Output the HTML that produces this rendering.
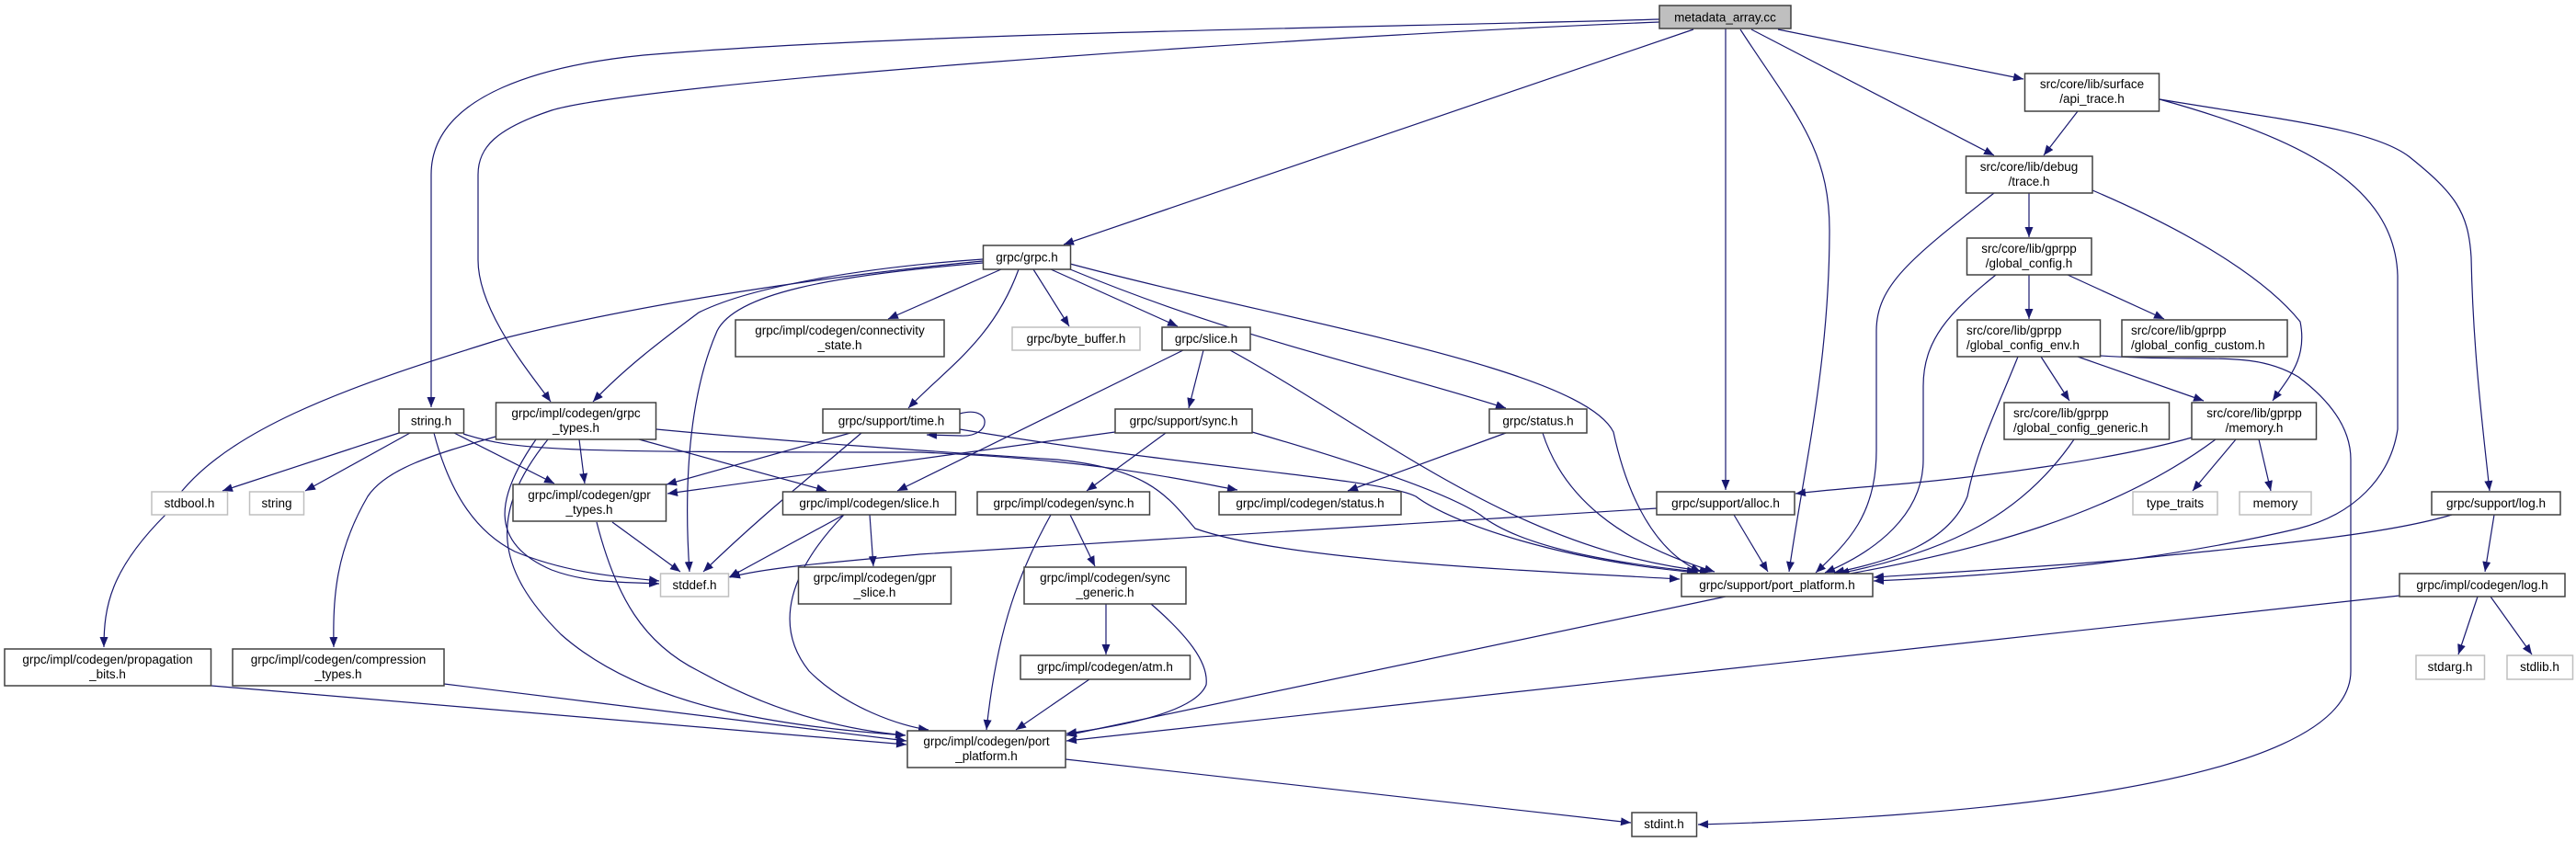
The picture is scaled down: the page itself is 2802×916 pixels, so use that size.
<!DOCTYPE html>
<html><head><meta charset="utf-8"><style>
html,body{margin:0;padding:0;background:#fff;}
svg{display:block;}
text{font-family:"Liberation Sans",sans-serif;font-size:13.5px;fill:#000;}
.n{fill:#fff;stroke:#404040;stroke-width:1.5;}
.g{fill:#fff;stroke:#bfbfbf;stroke-width:1.5;}
.e{fill:none;stroke:#191970;stroke-width:1.2;marker-end:url(#a);}
</style></head><body>
<svg width="2802" height="916" viewBox="0 0 2802 916" xmlns="http://www.w3.org/2000/svg">
<defs><marker id="a" markerUnits="userSpaceOnUse" markerWidth="12" markerHeight="9" refX="11" refY="4.5" orient="auto"><path d="M0,0 L11,4.5 L0,9 z" fill="#191970"/></marker></defs>
<g>
<!-- metadata edges -->
<path class="e" d="M1805,21 C1500,30 1000,35 700,60 C600,70 469,100 469,190 L469,443"/>
<path class="e" d="M1805,24 C1400,40 700,90 600,120 C540,140 520,160 520,190 L520,283 C520,340 580,410 599,437"/>
<path class="e" d="M1842,32 L1157,266"/>
<path class="e" d="M1877,31 L1877,533"/>
<path class="e" d="M1893,32 C1950,120 1990,160 1990,250 C1990,400 1960,520 1946,622"/>
<path class="e" d="M1905,32 L2169,169"/>
<path class="e" d="M1934,32 L2201,86"/>
<!-- grpc.h -->
<path class="e" d="M1089,293 L966,347"/>
<path class="e" d="M1124,293 L1163,355"/>
<path class="e" d="M1143,293 L1281,355"/>
<path class="e" d="M1164,293 C1350,370 1500,400 1638,444"/>
<path class="e" d="M1164,287 C1400,350 1720,400 1755,470 C1770,540 1800,600 1850,622"/>
<path class="e" d="M1108,293 C1080,370 1030,400 988,444"/>
<path class="e" d="M1069,282 C950,290 820,310 760,340 C720,370 680,400 645,437"/>
<path class="e" d="M1069,286 C900,300 800,320 780,360 C745,440 745,550 750,622"/>
<path class="e" d="M1069,284 C900,300 700,330 548,368 C380,420 230,470 180,560 C120,620 113,660 113,704"/>
<!-- string.h -->
<path class="e" d="M434,471 L242,534"/>
<path class="e" d="M446,471 L332,534"/>
<path class="e" d="M494,471 L603,526"/>
<path class="e" d="M472,471 C490,540 520,580 560,600 C620,625 680,628 717,632"/>
<path class="e" d="M504,472 C560,490 600,492 1000,492 C1200,500 1300,525 1346,533"/>
<!-- grpc_types.h -->
<path class="e" d="M630,478 L636,526"/>
<path class="e" d="M695,478 L899,534"/>
<path class="e" d="M539,475 C470,495 420,510 400,540 C365,600 362,650 363,704"/>
<path class="e" d="M583,478 C540,540 530,590 600,620 C640,635 680,633 717,635"/>
<path class="e" d="M596,478 C530,560 540,620 610,690 C700,770 850,790 985,800"/>
<path class="e" d="M714,467 C850,480 1000,490 1150,500 C1250,510 1270,540 1300,575 C1400,610 1650,620 1827,630"/>
<!-- time.h -->
<path class="e" d="M1044,450 C1080,440 1080,476 1045,474 L1008,473"/>
<path class="e" d="M925,471 L725,527"/>
<path class="e" d="M937,471 C880,520 829,560 765,622"/>
<path class="e" d="M1044,467 C1300,510 1500,520 1540,540 C1580,570 1700,610 1847,623"/>
<!-- support/sync.h -->
<path class="e" d="M1268,471 L1182,534"/>
<path class="e" d="M1213,470 C1000,500 850,520 726,537"/>
<path class="e" d="M1362,470 C1500,510 1580,540 1610,560 C1660,600 1780,615 1846,622"/>
<!-- slice.h -->
<path class="e" d="M1309,381 L1293,444"/>
<path class="e" d="M1287,381 L976,534"/>
<path class="e" d="M1338,381 C1500,470 1650,600 1860,622"/>
<!-- status.h -->
<path class="e" d="M1638,471 L1466,534"/>
<path class="e" d="M1678,471 C1700,540 1760,590 1865,622"/>
<!-- codegen/slice.h -->
<path class="e" d="M946,560 L950,616"/>
<path class="e" d="M918,560 L793,628"/>
<path class="e" d="M918,560 C860,620 840,680 880,730 C920,770 980,790 1010,794"/>
<!-- gpr_types.h -->
<path class="e" d="M666,568 L740,622"/>
<path class="e" d="M649,568 C670,650 700,700 760,730 C850,780 930,795 985,800"/>
<!-- codegen/sync.h -->
<path class="e" d="M1164,560 L1191,616"/>
<path class="e" d="M1143,560 C1110,620 1085,680 1073,794"/>
<path class="e" d="M1203,657 L1203,712"/>
<path class="e" d="M1252,657 C1290,690 1315,720 1312,745 C1300,775 1220,790 1160,798"/>
<path class="e" d="M1185,739 L1105,794"/>
<path class="e" d="M1877,649 L1160,800"/>
<path class="e" d="M2610,648 L1160,806"/>
<path class="e" d="M230,746 L986,810"/>
<path class="e" d="M483,744 L986,806"/>
<path class="e" d="M1159,826 L1774,895"/>
<path class="e" d="M2285,387 C2400,395 2450,380 2500,410 C2540,440 2557,470 2557,500 L2557,730 C2557,860 2100,890 1847,897"/>
<!-- alloc.h -->
<path class="e" d="M1802,553 L1000,603 C900,612 830,618 794,628"/>
<path class="e" d="M1886,560 L1923,622"/>
<!-- memory.h -->
<path class="e" d="M2384,476 C2300,500 2150,520 2050,528 C2000,532 1970,535 1953,537"/>
<path class="e" d="M2410,478 C2300,560 2150,600 2001,626"/>
<path class="e" d="M2432,478 L2385,534"/>
<path class="e" d="M2457,478 L2470,534"/>
<path class="e" d="M2256,478 C2200,560 2120,600 2000,624"/>
<!-- global_config_env -->
<path class="e" d="M2220,388 L2251,436"/>
<path class="e" d="M2260,388 L2397,436"/>
<path class="e" d="M2195,388 C2170,450 2150,490 2140,540 C2120,590 2060,610 1995,623"/>
<!-- global_config -->
<path class="e" d="M2207,299 L2207,347"/>
<path class="e" d="M2249,299 L2354,347"/>
<path class="e" d="M2171,299 C2120,340 2092,370 2092,420 L2092,500 C2092,560 2040,600 1985,623"/>
<!-- debug/trace -->
<path class="e" d="M2207,210 L2207,258"/>
<path class="e" d="M2276,207 C2400,260 2470,310 2502,350 C2510,390 2490,410 2472,436"/>
<path class="e" d="M2169,210 C2080,280 2041,310 2041,360 L2041,490 C2041,560 2010,590 1975,623"/>
<!-- api_trace -->
<path class="e" d="M2260,121 L2223,169"/>
<path class="e" d="M2349,108 C2500,150 2605,200 2608,300 L2608,467 C2600,520 2560,560 2500,575 C2350,610 2200,625 2038,632"/>
<path class="e" d="M2349,108 C2480,130 2580,140 2620,170 C2670,210 2685,230 2688,280 C2690,380 2700,460 2708,534"/>
<!-- log -->
<path class="e" d="M2713,560 L2703,622"/>
<path class="e" d="M2667,560 C2600,580 2500,590 2300,610 C2200,618 2100,624 2038,628"/>
<path class="e" d="M2695,649 L2674,712"/>
<path class="e" d="M2709,649 L2754,712"/>
</g>
<g>
<rect x="1805" y="6" width="143" height="25" fill="#bfbfbf" stroke="#404040" stroke-width="1.5"/><text x="1876.5" y="23.5" text-anchor="middle">metadata_array.cc</text>
<rect class="n" x="1069.5" y="267" width="95" height="26"/><text x="1117" y="284.5" text-anchor="middle">grpc/grpc.h</text>
<rect class="g" x="1101" y="356" width="139" height="25"/><text x="1170.5" y="373" text-anchor="middle">grpc/byte_buffer.h</text>
<rect class="n" x="1264" y="356" width="96" height="25"/><text x="1312" y="373" text-anchor="middle">grpc/slice.h</text>
<rect class="n" x="800" y="348" width="227" height="40"/><text x="913.5" y="364" text-anchor="middle">grpc/impl/codegen/connectivity</text><text x="913.5" y="380" text-anchor="middle">_state.h</text>
<rect class="n" x="2202.5" y="80" width="146" height="41"/><text x="2275.5" y="96" text-anchor="middle">src/core/lib/surface</text><text x="2275.5" y="112" text-anchor="middle">/api_trace.h</text>
<rect class="n" x="2138.5" y="170" width="137.5" height="40"/><text x="2207" y="186" text-anchor="middle">src/core/lib/debug</text><text x="2207" y="202" text-anchor="middle">/trace.h</text>
<rect class="n" x="2139.5" y="259" width="135.5" height="40"/><text x="2207" y="275" text-anchor="middle">src/core/lib/gprpp</text><text x="2207" y="291" text-anchor="middle">/global_config.h</text>
<rect class="n" x="2129" y="348" width="155.5" height="40"/><text x="2139" y="364">src/core/lib/gprpp</text><text x="2139" y="380">/global_config_env.h</text>
<rect class="n" x="2308" y="348" width="180" height="40"/><text x="2318" y="364">src/core/lib/gprpp</text><text x="2318" y="380">/global_config_custom.h</text>
<rect class="n" x="2180" y="438" width="179.5" height="40"/><text x="2190" y="454">src/core/lib/gprpp</text><text x="2190" y="470">/global_config_generic.h</text>
<rect class="n" x="2384" y="438" width="135.5" height="40"/><text x="2452" y="454" text-anchor="middle">src/core/lib/gprpp</text><text x="2452" y="470" text-anchor="middle">/memory.h</text>
<rect class="g" x="2320" y="535" width="92" height="25"/><text x="2366" y="552" text-anchor="middle">type_traits</text>
<rect class="g" x="2436" y="535" width="78" height="25"/><text x="2475" y="552" text-anchor="middle">memory</text>
<rect class="n" x="2645" y="535" width="140" height="25"/><text x="2715" y="552" text-anchor="middle">grpc/support/log.h</text>
<rect class="n" x="2610" y="624" width="180" height="25"/><text x="2700" y="641" text-anchor="middle">grpc/impl/codegen/log.h</text>
<rect class="g" x="2628" y="713" width="74.5" height="26"/><text x="2665" y="730" text-anchor="middle">stdarg.h</text>
<rect class="g" x="2727" y="713" width="71.5" height="26"/><text x="2762.5" y="730" text-anchor="middle">stdlib.h</text>
<rect class="n" x="895" y="445" width="149" height="26"/><text x="969.5" y="462.5" text-anchor="middle">grpc/support/time.h</text>
<rect class="n" x="1213" y="445" width="149" height="26"/><text x="1287.5" y="462.5" text-anchor="middle">grpc/support/sync.h</text>
<rect class="n" x="1620" y="445" width="106" height="26"/><text x="1673" y="462.5" text-anchor="middle">grpc/status.h</text>
<rect class="n" x="1063" y="535" width="187.5" height="25"/><text x="1157" y="552" text-anchor="middle">grpc/impl/codegen/sync.h</text>
<rect class="n" x="1326" y="535" width="198" height="25"/><text x="1425" y="552" text-anchor="middle">grpc/impl/codegen/status.h</text>
<rect class="n" x="1802" y="535" width="150" height="25"/><text x="1877" y="552" text-anchor="middle">grpc/support/alloc.h</text>
<rect class="n" x="1829" y="624" width="208" height="25"/><text x="1933" y="641" text-anchor="middle">grpc/support/port_platform.h</text>
<rect class="n" x="1114" y="617" width="176" height="40"/><text x="1202" y="633" text-anchor="middle">grpc/impl/codegen/sync</text><text x="1202" y="649" text-anchor="middle">_generic.h</text>
<rect class="n" x="1110" y="713" width="184.5" height="26"/><text x="1202" y="730" text-anchor="middle">grpc/impl/codegen/atm.h</text>
<rect class="n" x="987" y="795" width="172" height="40"/><text x="1073" y="811" text-anchor="middle">grpc/impl/codegen/port</text><text x="1073" y="827" text-anchor="middle">_platform.h</text>
<rect class="n" x="1775" y="884" width="70.5" height="26"/><text x="1810" y="901" text-anchor="middle">stdint.h</text>
<rect class="n" x="434" y="445" width="70.5" height="26"/><text x="469" y="462.5" text-anchor="middle">string.h</text>
<rect class="n" x="539.5" y="438" width="174" height="40"/><text x="626.5" y="454" text-anchor="middle">grpc/impl/codegen/grpc</text><text x="626.5" y="470" text-anchor="middle">_types.h</text>
<rect class="g" x="165" y="535" width="82.5" height="25"/><text x="206" y="552" text-anchor="middle">stdbool.h</text>
<rect class="g" x="271.5" y="535" width="59" height="25"/><text x="301" y="552" text-anchor="middle">string</text>
<rect class="n" x="558" y="527" width="166.5" height="40"/><text x="641" y="543" text-anchor="middle">grpc/impl/codegen/gpr</text><text x="641" y="559" text-anchor="middle">_types.h</text>
<rect class="n" x="851.5" y="535" width="188" height="25"/><text x="945.5" y="552" text-anchor="middle">grpc/impl/codegen/slice.h</text>
<rect class="g" x="718.5" y="624" width="74" height="25"/><text x="755.5" y="641" text-anchor="middle">stddef.h</text>
<rect class="n" x="868.5" y="617" width="166" height="40"/><text x="951.5" y="633" text-anchor="middle">grpc/impl/codegen/gpr</text><text x="951.5" y="649" text-anchor="middle">_slice.h</text>
<rect class="n" x="5" y="706" width="224.5" height="40"/><text x="117" y="722" text-anchor="middle">grpc/impl/codegen/propagation</text><text x="117" y="738" text-anchor="middle">_bits.h</text>
<rect class="n" x="253" y="706" width="230" height="40"/><text x="368" y="722" text-anchor="middle">grpc/impl/codegen/compression</text><text x="368" y="738" text-anchor="middle">_types.h</text>
</g>
</svg>
</body></html>
